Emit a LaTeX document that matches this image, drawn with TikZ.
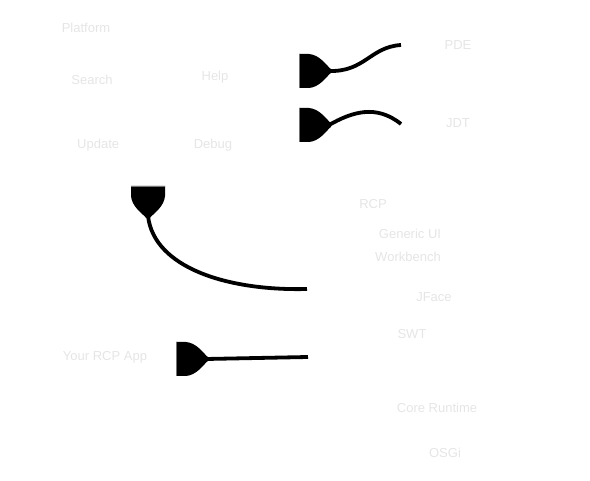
\documentclass[tikz,border=0pt]{standalone}
\usepackage{fontspec}
\setmainfont{Liberation Sans}
\usepackage{tikz}

\begin{document}
\begin{tikzpicture}[x=1pt,y=-1pt,
  lbl/.style={text=black!10,font=\fontsize{13}{15}\selectfont,inner sep=0pt},
  cable/.style={draw=black,line width=3.8pt},
  plug/.pic={
    \path[fill=black] (0,-17) -- (10,-17) .. controls (21,-16) and (27,-6) .. (32,-1.8)
      -- (32,1.8) .. controls (27,6) and (21,16) .. (10,17) -- (0,17) -- cycle;
    \path[draw=black!55,line width=0.8pt] (0,-17) -- (0,17);
    \coordinate (-tip) at (30,0);
  }]
\useasboundingbox (0,0) rectangle (590,481);
% objects at depth 100:
\node[lbl] (platform) at (86,28) {Platform};
\node[lbl] (search) at (92,80) {Search};
\node[lbl] (help) at (215,77) {Help};
\node[lbl,anchor=west] (update) at (77,145) {Update};
\node[lbl] (debug) at (213,145) {Debug};
\node[lbl] (pde) at (458,45) {PDE};
\node[lbl] (jdt) at (458,123) {JDT};
\node[lbl] (rcp) at (373,204) {RCP};
\node[lbl] (generic) at (410,234) {Generic UI};
\node[lbl] (workbench) at (408,257) {Workbench};
\node[lbl] (jface) at (434,297) {JFace};
\node[lbl] (swt) at (412,334) {SWT};
\node[lbl] (runtime) at (437,408) {Core Runtime};
\node[lbl] (osgi) at (445,453) {OSGi};
\node[lbl] (app) at (105,357) {Your RCP App};
% objects at depth 50:
\pic (pdeplug) at (299,71) {plug};
\pic (jdtplug) at (299,125) {plug};
\pic[rotate=-90] (platplug) at (148,186) {plug};
\pic (appplug) at (176,359) {plug};
\coordinate (pdeend) at (401,45);
\coordinate (jdtend) at (401,124);
\coordinate (platend) at (307,289);
\coordinate (append) at (308,357);
% objects at depth 0:
\draw[cable] (pdeplug-tip) .. controls (365,72) and (370,47) .. (pdeend);
\draw[cable] (jdtplug-tip) .. controls (352,112) and (376,104) .. (jdtend);
\draw[cable] (platplug-tip) .. controls (154,268) and (228,291) .. (platend);
\draw[cable] (appplug-tip) -- (append);
\end{tikzpicture}
\end{document}
